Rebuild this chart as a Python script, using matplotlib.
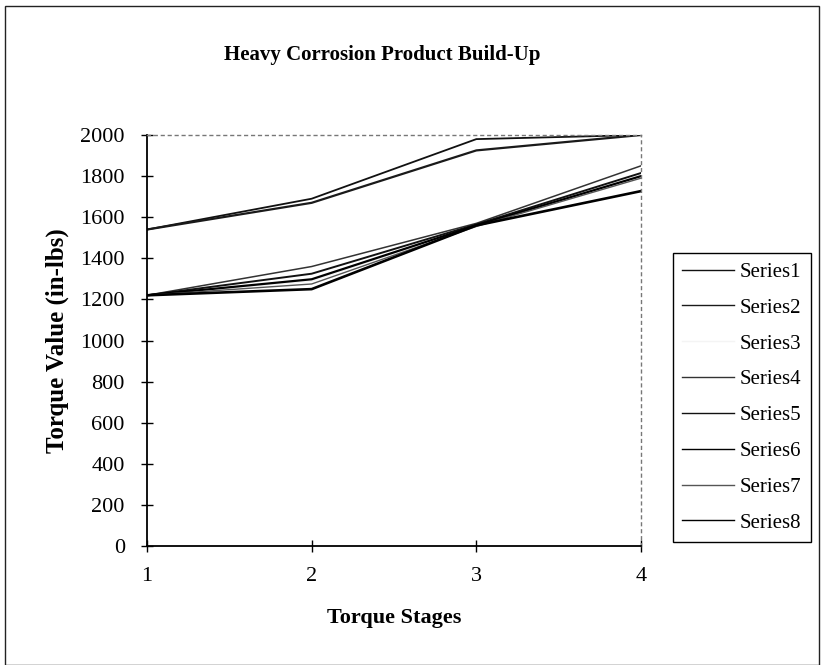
import matplotlib.pyplot as plt
from matplotlib.patches import Rectangle

plt.rcParams['font.family'] = ['Liberation Serif', 'DejaVu Serif']

stages = [1, 2, 3, 4]
series1 = [1540, 1690, 1980, 2000]
series2 = [1540, 1670, 1925, 2000]
series3 = [1220, 1290, 1560, 1800]
series4 = [1220, 1360, 1570, 1850]
series5 = [1220, 1325, 1565, 1815]
series6 = [1220, 1298, 1560, 1800]
series7 = [1220, 1275, 1555, 1790]
series8 = [1220, 1250, 1560, 1727]

names = ["Series1", "Series2", "Series3", "Series4",
         "Series5", "Series6", "Series7", "Series8"]
values = [series1, series2, series3, series4,
          series5, series6, series7, series8]
# scanned print: everything is near black except the pale third series
colors = ["#111111", "#1a1a1a", "#f4f4f4", "#333333",
          "#111111", "#000000", "#555555", "#000000"]
widths = [1.3, 1.6, 1.3, 1.1, 1.4, 1.6, 1.0, 1.9]

fig = plt.figure(figsize=(8.22, 6.65), dpi=100)
ax = fig.add_axes([147/822, 119/665, 494/822, 411/665])

for name, vals, c, w in zip(names, values, colors, widths):
    ax.plot(stages, vals, color=c, lw=w, label=name)

ax.set_xlim(1, 4)
ax.set_ylim(0, 2000)
ax.set_xticks(stages)
ax.set_yticks(range(0, 2001, 200))
ax.tick_params(direction='inout', length=8, width=1, labelsize=16,
               colors='black')
ax.tick_params(axis='y', pad=12)
ax.tick_params(axis='x', pad=11)

for side in ['top', 'right']:
    ax.spines[side].set_linestyle((0, (2, 3)))
    ax.spines[side].set_color('#777777')
    ax.spines[side].set_linewidth(1)
for side in ['left', 'bottom']:
    ax.spines[side].set_linewidth(1.3)

ax.set_xlabel("Torque Stages", fontsize=16, fontweight='bold', labelpad=16)
ax.set_ylabel("Torque Value (in-lbs)", fontsize=18, fontweight='bold',
              labelpad=8)

fig.text(382/822, 1 - 55/665, "Heavy Corrosion Product Build-Up",
         ha='center', va='center', fontsize=15, fontweight='bold')

leg = fig.legend(loc='upper left', bbox_to_anchor=(673/822, 1 - 253/665),
                 fontsize=15, handlelength=2.5, handletextpad=0.25,
                 labelspacing=0.78, fancybox=False, edgecolor='black',
                 framealpha=1, borderpad=0.45, borderaxespad=0)
leg.get_frame().set_linewidth(1)
for h in leg.get_lines():
    h.set_linewidth(1)

# outer chart-area border
fig.patches.append(Rectangle((5/822, 0.0), 814/822, 1 - 6/665,
                             transform=fig.transFigure, fill=False,
                             edgecolor='#222222', lw=1))

fig.savefig("out.png", dpi=100)
